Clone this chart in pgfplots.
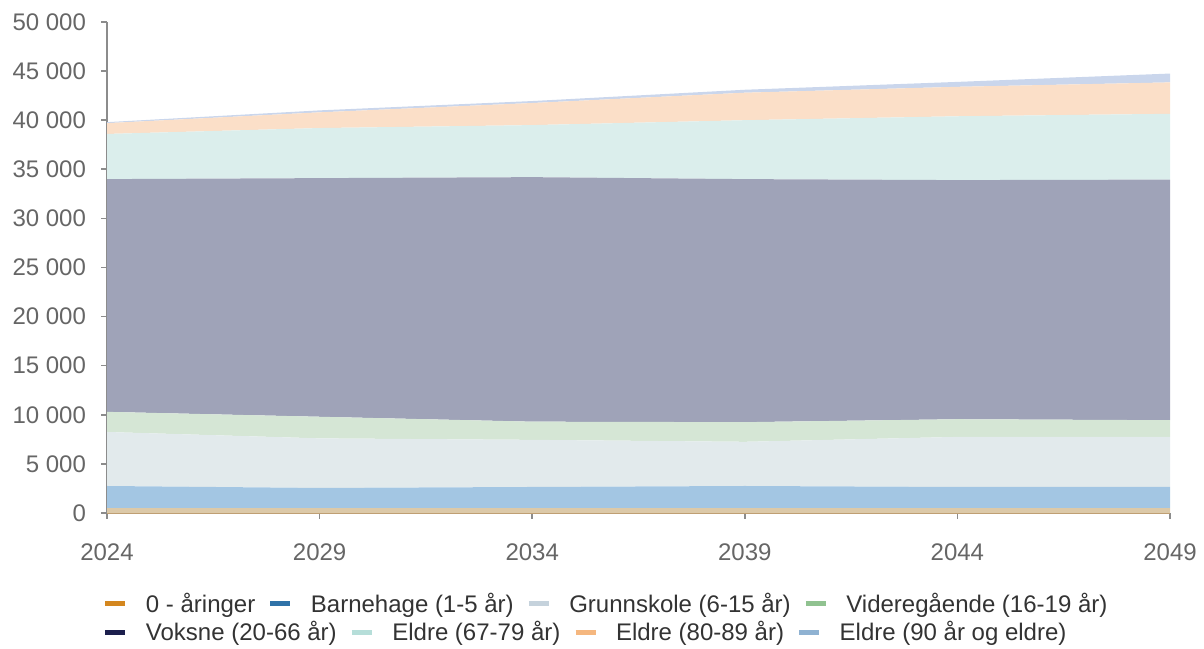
\documentclass[border=0pt]{standalone}
\usepackage{fontspec}
\setmainfont{Liberation Sans}
\usepackage{pgfplots}
\pgfplotsset{compat=1.18}
\definecolor{f0}{HTML}{DCC9A8}
\definecolor{f1}{HTML}{A3C6E3}
\definecolor{f2}{HTML}{E2EAEC}
\definecolor{f3}{HTML}{D5E6D5}
\definecolor{f4}{HTML}{9FA3B8}
\definecolor{f5}{HTML}{DBEEEC}
\definecolor{f6}{HTML}{FBDFC8}
\definecolor{f7}{HTML}{CAD6EC}
\definecolor{l0}{HTML}{D4871F}
\definecolor{l1}{HTML}{2F72A8}
\definecolor{l2}{HTML}{C5D2DC}
\definecolor{l3}{HTML}{90C290}
\definecolor{l4}{HTML}{1C1F4D}
\definecolor{l5}{HTML}{B6DED9}
\definecolor{l6}{HTML}{F5B77F}
\definecolor{l7}{HTML}{8FB2D2}
\definecolor{tickgray}{HTML}{666666}
\definecolor{axgray}{HTML}{8C8C8C}
\definecolor{legtext}{HTML}{333333}
\pgfplotsset{
  mylegend/.style={
    legend style={draw=none, fill=none, inner sep=0pt, outer sep=0pt,
      font=\fontsize{12}{14}\selectfont, text=legtext,
      /tikz/every odd column/.append style={column sep=7pt},
      /tikz/every even column/.append style={column sep=4.3pt}},
    legend columns=4, legend cell align=left,
    legend image code/.code={\draw[##1, line width=2.5pt] (0pt,0pt) -- (10pt,0pt);},
  }
}
\begin{document}
\begin{tikzpicture}
\begin{axis}[
  at={(53.5pt,67.5pt)}, anchor=south west,
  scale only axis, width=531.5pt, height=245.5pt,
  xmin=2024, xmax=2049, ymin=0, ymax=50000,
  stack plots=y,
  axis x line*=bottom, axis y line*=left,
  x axis line style={draw=l0!70!black!60, line width=1pt, -},
  y axis line style={draw=axgray, line width=0.8pt, -},
  xtick={2024,2029,2034,2039,2044,2049},
  ytick={0,5000,...,50000},
  scaled y ticks=false,
  tick align=outside, major tick length=3pt,
  tick style={draw=axgray, line width=0.8pt},
  /pgf/number format/assume math mode=true,
  ticklabel style={font=\fontsize{12}{14}\selectfont, text=tickgray},
  x tick label style={/pgf/number format/1000 sep={}, yshift=-9pt},
  y tick label style={/pgf/number format/fixed, /pgf/number format/1000 sep={\ }, xshift=-4pt},
  mylegend,
  legend style={at={(-0.0038,-0.1853)}, anchor=west},
]
\addplot[fill=f0, draw=none, forget plot] coordinates {(2024,500) (2029,500) (2034,500) (2039,500) (2044,500) (2049,500)} \closedcycle;
\addplot[fill=f1, draw=none, forget plot] coordinates {(2024,2250) (2029,2050) (2034,2150) (2039,2250) (2044,2150) (2049,2150)} \closedcycle;
\addplot[fill=f2, draw=none, forget plot] coordinates {(2024,5500) (2029,5050) (2034,4800) (2039,4500) (2044,5100) (2049,5100)} \closedcycle;
\addplot[fill=f3, draw=none, forget plot] coordinates {(2024,2050) (2029,2200) (2034,1850) (2039,2000) (2044,1800) (2049,1700)} \closedcycle;
\addplot[fill=f4, draw=none, forget plot] coordinates {(2024,23700) (2029,24300) (2034,24900) (2039,24750) (2044,24350) (2049,24500)} \closedcycle;
\addplot[fill=f5, draw=none, forget plot] coordinates {(2024,4600) (2029,5100) (2034,5300) (2039,6000) (2044,6500) (2049,6700)} \closedcycle;
\addplot[fill=f6, draw=none, forget plot] coordinates {(2024,1100) (2029,1600) (2034,2250) (2039,2800) (2044,3000) (2049,3200)} \closedcycle;
\addplot[fill=f7, draw=none, forget plot] coordinates {(2024,100) (2029,200) (2034,200) (2039,300) (2044,500) (2049,900)} \closedcycle;
\addlegendimage{draw=l0}\addlegendentry{0 - åringer}
\addlegendimage{draw=l1}\addlegendentry{Barnehage (1-5 år)}
\addlegendimage{draw=l2}\addlegendentry{Grunnskole (6-15 år)}
\addlegendimage{draw=l3}\addlegendentry{Videregående (16-19 år)}
\end{axis}
\begin{axis}[
  at={(53.5pt,67.5pt)}, anchor=south west,
  scale only axis, width=531.5pt, height=245.5pt,
  xmin=2024, xmax=2049, ymin=0, ymax=50000,
  hide axis,
  mylegend,
  legend style={at={(-0.0038,-0.2424)}, anchor=west},
]
\addlegendimage{draw=l4}\addlegendentry{Voksne (20-66 år)}
\addlegendimage{draw=l5}\addlegendentry{Eldre (67-79 år)}
\addlegendimage{draw=l6}\addlegendentry{Eldre (80-89 år)}
\addlegendimage{draw=l7}\addlegendentry{Eldre (90 år og eldre)}
\end{axis}
\pgfresetboundingbox
\path[use as bounding box] (0,0) rectangle (602pt,324pt);
\end{tikzpicture}
\end{document}
